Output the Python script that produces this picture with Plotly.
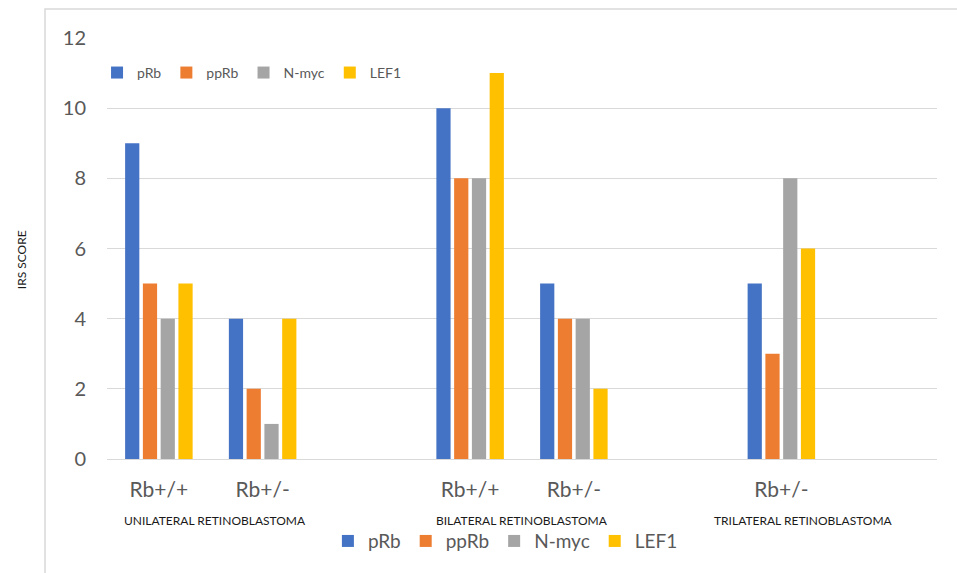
import plotly.graph_objects as go

# Category slots along the x axis (blank slots separate the three groups)
bar_slots = [0, 1, 3, 4, 6]
tick_labels = ["Rb+/+", "Rb+/-", "Rb+/+", "Rb+/-", "Rb+/-"]

group_labels = ["UNILATERAL RETINOBLASTOMA", "BILATERAL RETINOBLASTOMA", "TRILATERAL RETINOBLASTOMA"]
group_label_x = [0.54, 3.5, 6.21]

markers = ["pRb", "ppRb", "N-myc", "LEF1"]
colors = ["#4472C4", "#ED7D31", "#A5A5A5", "#FFC000"]

pRb = [9, 4, 10, 5, 5]
ppRb = [5, 2, 8, 4, 3]
N_myc = [4, 1, 8, 4, 8]
LEF1 = [5, 4, 11, 2, 6]
series = [pRb, ppRb, N_myc, LEF1]

y_ticks = [0, 2, 4, 6, 8, 10, 12]

FONT = "Lato, 'Open Sans', sans-serif"
GRID = "#D9D9D9"
TICK_COLOR = "#595959"
LABEL_COLOR = "#1A1A1A"

fig = go.Figure()

for name, vals, col in zip(markers, series, colors):
    fig.add_trace(go.Bar(
        x=bar_slots, y=vals, name=name,
        marker=dict(color=col, line=dict(width=0)),
        legend="legend",
    ))

# keys for the bottom legend, kept on a hidden overlay axis so they do not
# take part in the bar grouping
for name, col in zip(markers, colors):
    fig.add_trace(go.Bar(
        x=[None], y=[None], name=name,
        marker=dict(color=col, line=dict(width=0)),
        legend="legend2", hoverinfo="skip",
        xaxis="x2", yaxis="y2",
    ))

for text, gx in zip(group_labels, group_label_x):
    fig.add_annotation(
        x=gx, xref="x", y=-0.145, yref="paper",
        text=text, showarrow=False,
        font=dict(family=FONT, size=12, color=LABEL_COLOR),
        xanchor="center", yanchor="middle",
    )

fig.add_annotation(
    x=-0.102, xref="paper", y=0.473, yref="paper",
    text="IRS SCORE", textangle=-90, showarrow=False,
    font=dict(family=FONT, size=12, color=LABEL_COLOR),
    xanchor="center", yanchor="middle",
)

# outer chart frame
fig.add_shape(
    type="rect", xref="paper", yref="paper",
    x0=-0.0747, x1=1.05, y0=-0.32, y1=1.069,
    line=dict(color=GRID, width=1.5), fillcolor="rgba(0,0,0,0)",
    layer="below",
)

hidden_axis = dict(visible=False, showgrid=False, zeroline=False)

fig.update_layout(
    width=957, height=573,
    margin=dict(l=107, r=20, t=38, b=114),
    paper_bgcolor="white", plot_bgcolor="white",
    barmode="group", bargap=0.315, bargroupgap=0.2,
    font=dict(family=FONT, color=TICK_COLOR),
    showlegend=True,
    legend=dict(
        orientation="h", x=-0.012, xanchor="left", y=0.917, yanchor="middle",
        font=dict(family=FONT, size=14, color=TICK_COLOR),
        bgcolor="rgba(0,0,0,0)", itemwidth=30,
    ),
    legend2=dict(
        orientation="h", x=0.48, xanchor="center", y=-0.195, yanchor="middle",
        font=dict(family=FONT, size=19, color=TICK_COLOR),
        bgcolor="rgba(0,0,0,0)", itemwidth=30,
    ),
    xaxis=dict(
        range=[-0.5, 7.5],
        tickmode="array", tickvals=bar_slots, ticktext=tick_labels,
        showgrid=False, zeroline=False, showline=False, ticks="",
        tickfont=dict(family=FONT, size=21, color=TICK_COLOR),
        ticklabelstandoff=16,
    ),
    yaxis=dict(
        range=[0, 12], tickmode="array", tickvals=y_ticks,
        showgrid=True, gridcolor=GRID, gridwidth=1.3,
        zeroline=True, zerolinecolor=GRID, zerolinewidth=1.3,
        showline=False, ticks="",
        tickfont=dict(family=FONT, size=20, color=TICK_COLOR),
        ticklabelstandoff=20,
    ),
    xaxis2=dict(overlaying="x", **hidden_axis),
    yaxis2=dict(overlaying="y", **hidden_axis),
)

fig.write_html("out.html")
